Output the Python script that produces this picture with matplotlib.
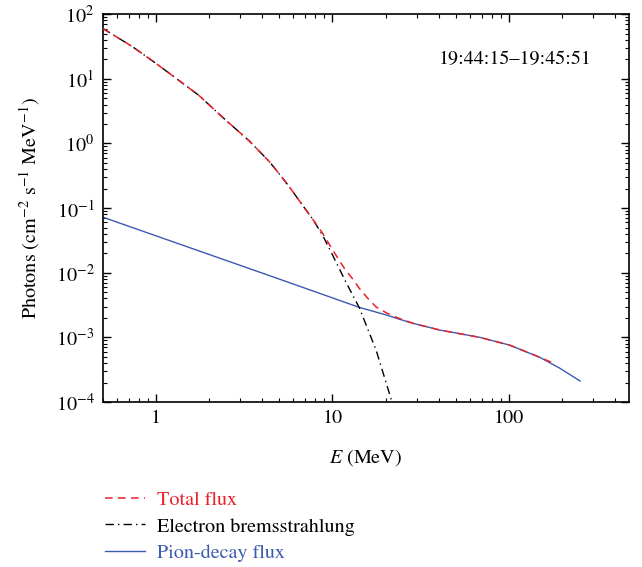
import numpy as np
import matplotlib
matplotlib.use('Agg')
import matplotlib.pyplot as plt
from matplotlib.ticker import LogLocator, NullFormatter

plt.rcParams['font.family'] = 'STIXGeneral'
plt.rcParams['mathtext.fontset'] = 'stix'

# values (energy in MeV, flux as log10)
total_e = [0.5, 0.734, 1.0, 1.35, 1.75, 2.49, 3.38, 4.39, 5.0, 5.7, 6.67, 7.73, 8.8, 10.0, 11.8, 13.06,
           14.2, 15.8, 17.7, 20.2, 23, 28.6, 40.5, 68.4, 101, 150, 179]
total_log = [1.78, 1.50, 1.24, 0.975, 0.745, 0.36, 0.04, -0.28, -0.47, -0.67, -0.93, -1.17, -1.39, -1.64, -1.95, -2.10,
             -2.24, -2.39, -2.53, -2.62, -2.69, -2.783, -2.886, -3.0, -3.12, -3.31, -3.40]

brems_e = [0.5, 0.734, 1.0, 1.35, 1.75, 2.49, 3.38, 4.39, 5.0, 5.7, 6.67, 7.73, 8.8, 10.0, 11.8, 14.2, 17.7, 21.6, 22.3]
brems_log = [1.78, 1.50, 1.24, 0.975, 0.745, 0.36, 0.04, -0.28, -0.47, -0.67, -0.93, -1.17, -1.42, -1.72, -2.12, -2.54, -3.20, -3.97, -4.12]

pion_e = [0.5, 5.0, 14.2, 20.2, 24, 28.6, 40.5, 68.4, 101, 150, 195, 253]
pion_log = [-1.14, -2.098, -2.536, -2.654, -2.72, -2.783, -2.886, -3.0, -3.12, -3.31, -3.48, -3.675]

red = '#e8212b'
blue = '#3b5bb2'

fig = plt.figure(figsize=(6.42, 5.67), dpi=100)
ax = fig.add_axes([0.160, 0.291, 0.820, 0.684])

ax.plot(pion_e, 10 ** np.array(pion_log), color=blue, lw=1.0, label='Pion-decay flux', zorder=2)
ax.plot(brems_e, 10 ** np.array(brems_log), color='black', ls=(0, (6, 3, 1, 3)), lw=1.0,
        label='Electron bremsstrahlung', zorder=3)
ax.plot(total_e, 10 ** np.array(total_log), color=red, ls=(0, (5, 3.5)), lw=1.1, label='Total flux', zorder=4)

ax.set_xscale('log')
ax.set_yscale('log')
ax.set_xlim(0.5, 480)
ax.set_ylim(1e-4, 1e2)

ax.set_xticks([1, 10, 100])
ax.set_xticklabels(['1', '10', '100'])
ax.xaxis.set_minor_locator(LogLocator(base=10, subs=np.arange(2, 10)))
ax.xaxis.set_minor_formatter(NullFormatter())
ax.yaxis.set_major_locator(LogLocator(base=10, numticks=10))
ax.yaxis.set_minor_locator(LogLocator(base=10, subs=np.arange(2, 10), numticks=20))
ax.yaxis.set_minor_formatter(NullFormatter())

ax.tick_params(which='both', direction='in', top=True, right=True, labelsize=14.5)
ax.tick_params(which='major', length=6, width=1, pad=6)
ax.tick_params(which='minor', length=3, width=0.8)
for s in ax.spines.values():
    s.set_linewidth(1.2)

ax.set_xlabel(r'$E$ (MeV)', fontsize=14.5, labelpad=14)
ax.set_ylabel(r'Photons (cm$^{-2}$ s$^{-1}$ MeV$^{-1}$)', fontsize=14.5, labelpad=10)

ax.text(0.783, 0.884, '19:44:15\u201319:45:51', transform=ax.transAxes, ha='center', va='center', fontsize=14.5)

handles, labels = ax.get_legend_handles_labels()
order = [2, 1, 0]
fig.legend([handles[i] for i in order], [labels[i] for i in order],
           loc='upper left', bbox_to_anchor=(0.148, 0.152), frameon=False, fontsize=14.5,
           handlelength=2.0, handletextpad=0.6, labelspacing=0.42, labelcolor='linecolor', borderpad=0)

fig.savefig('out.png', dpi=100)
